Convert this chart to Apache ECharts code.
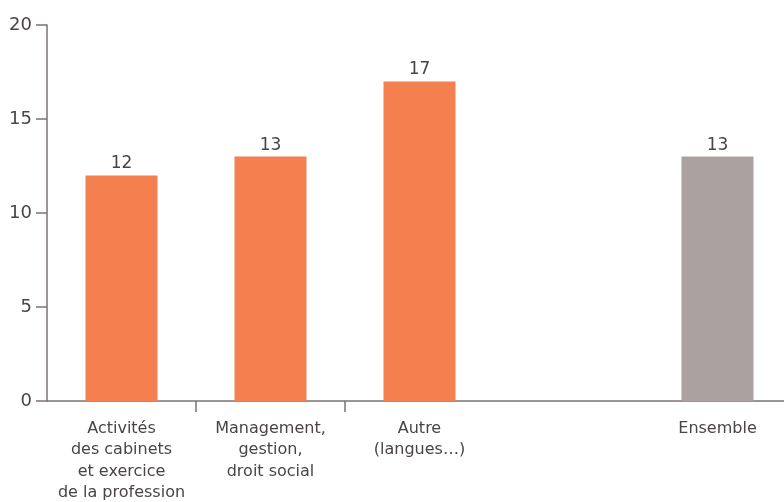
<!DOCTYPE html>
<html>
<head>
<meta charset="utf-8">
<script src="https://cdn.jsdelivr.net/npm/echarts@6/dist/echarts.min.js"></script>
<style>
html,body{margin:0;padding:0;background:#fff;}
#chart{width:784px;height:502px;}
</style>
</head>
<body>
<div id="chart"></div>
<script>
var categories = [
  "Activités\ndes cabinets\net exercice\nde la profession",
  "Management,\ngestion,\ndroit social",
  "Autre\n(langues…)",
  "",
  "Ensemble"
];
var values = [12, 13, 17, null, 13];
var barColors = ["#F4804F", "#F4804F", "#F4804F", "#F4804F", "#ABA19E"];
var yTicks = { min: 0, max: 20, interval: 5 };

var FONT = "DejaVu Sans";
var TEXT = "#4a4446";
var AXIS = "#7d7171";

var chart = echarts.init(document.getElementById('chart'), null, { renderer: 'canvas' });
chart.setOption({
  animation: false,
  backgroundColor: '#ffffff',
  grid: { left: 47, top: 25, bottom: 101, width: 745, containLabel: false, outerBoundsMode: 'none' },
  xAxis: {
    type: 'category',
    data: categories,
    axisLine: { show: true, lineStyle: { color: AXIS, width: 1.5 } },
    axisTick: {
      show: true,
      length: 11,
      lineStyle: { color: AXIS, width: 1.5 },
      interval: function (index) { return index === 1 || index === 2; }
    },
    axisLabel: {
      interval: 0,
      margin: 17,
      color: TEXT,
      fontFamily: FONT,
      fontSize: 16,
      lineHeight: 21.5
    }
  },
  yAxis: {
    type: 'value',
    min: yTicks.min,
    max: yTicks.max,
    interval: yTicks.interval,
    axisLine: { show: true, lineStyle: { color: AXIS, width: 1.5 } },
    axisTick: { show: true, length: 11, lineStyle: { color: AXIS, width: 1.5 } },
    splitLine: { show: false },
    axisLabel: { margin: 15, color: TEXT, fontFamily: FONT, fontSize: 18 }
  },
  series: [{
    type: 'bar',
    barWidth: 72,
    data: values.map(function (v, i) {
      return { value: v, itemStyle: { color: barColors[i] } };
    }),
    label: {
      show: true,
      position: 'top',
      distance: 3,
      color: TEXT,
      fontFamily: FONT,
      fontSize: 17
    }
  }]
});
</script>
</body>
</html>
